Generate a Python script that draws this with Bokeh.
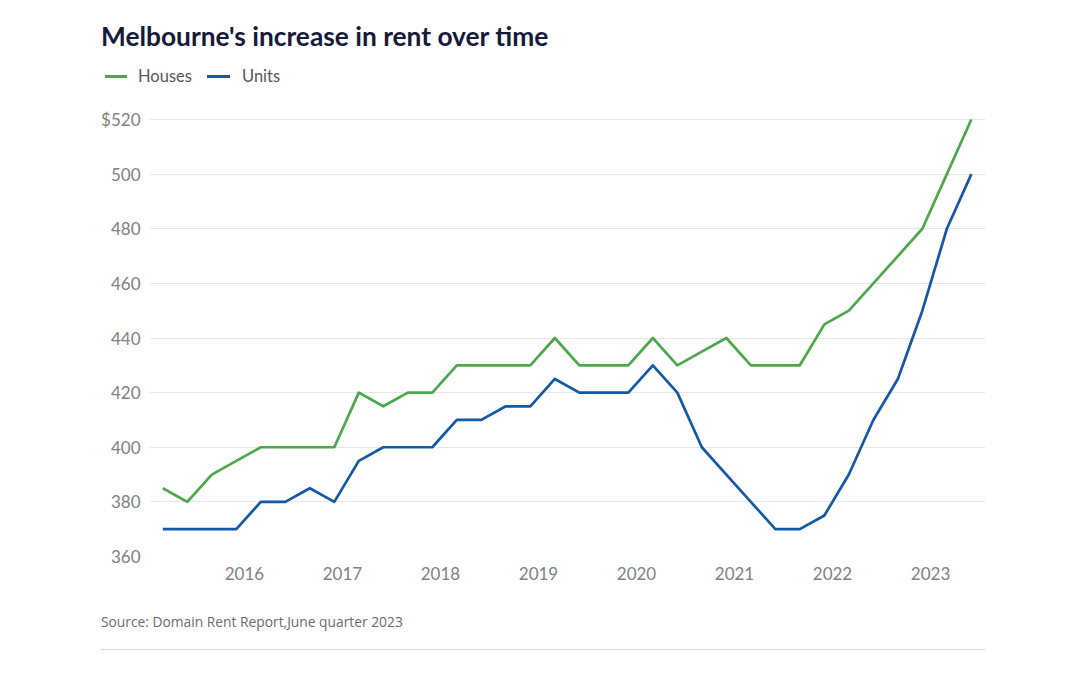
from bokeh.plotting import figure
from bokeh.models import FixedTicker, Range1d, Div
from bokeh.layouts import column
from bokeh.embed import file_html
from bokeh.resources import INLINE

# ---- data ----
quarters = ["2015-Q1", "2015-Q2", "2015-Q3", "2015-Q4",
            "2016-Q1", "2016-Q2", "2016-Q3", "2016-Q4",
            "2017-Q1", "2017-Q2", "2017-Q3", "2017-Q4",
            "2018-Q1", "2018-Q2", "2018-Q3", "2018-Q4",
            "2019-Q1", "2019-Q2", "2019-Q3", "2019-Q4",
            "2020-Q1", "2020-Q2", "2020-Q3", "2020-Q4",
            "2021-Q1", "2021-Q2", "2021-Q3", "2021-Q4",
            "2022-Q1", "2022-Q2", "2022-Q3", "2022-Q4",
            "2023-Q1", "2023-Q2"]
houses = [385, 380, 390, 395, 400, 400, 400, 400, 420, 415, 420, 420,
          430, 430, 430, 430, 440, 430, 430, 430, 440, 430, 435, 440,
          430, 430, 430, 445, 450, 460, 470, 480, 500, 520]
units = [370, 370, 370, 370, 380, 380, 385, 380, 395, 400, 400, 400,
         410, 410, 415, 415, 425, 420, 420, 420, 430, 420, 400, 390,
         380, 370, 370, 375, 390, 410, 425, 450, 480, 500]
year_ticks = [2016, 2017, 2018, 2019, 2020, 2021, 2022, 2023]
y_ticks = [360, 380, 400, 420, 440, 460, 480, 500, 520]
series_names = ["Houses", "Units"]
title_text = "Melbourne's increase in rent over time"
source_text = "Source: Domain Rent Report,June quarter 2023"

GREEN = "#4ca64a"
BLUE = "#1457a6"
FONT = "Lato"


def qpos(q):
    y, n = q.split("-Q")
    return int(y) + (int(n) - 1) / 4 + 1 / 6


xs = [qpos(q) for q in quarters]

W = 1064
HEAD_H = 96            # header strip (title + legend)
TOP_B = 20             # top border of chart (frame top at page y=116)
FRAME_H = 440
BOT_B = 40
MAIN_H = TOP_B + FRAME_H + BOT_B
FL, FR = 149, 985
FOOT_H = 56

# ---------------- header: title + legend (HTML) ----------------
swatch = ('<span style="position:absolute;left:{l}px;top:75.2px;width:{w}px;height:2.6px;'
          'background:{c};"></span>')
label = ('<span style="position:absolute;left:{l}px;top:68.3px;font-family:Lato;font-size:16.5px;'
         'line-height:16.5px;color:#555555;white-space:nowrap;">{t}</span>')
header_html = (
    '<div style="position:relative;width:%dpx;height:%dpx;">' % (W, HEAD_H)
    + '<span style="position:absolute;left:101px;top:23px;font-family:Lato;font-weight:bold;'
      'font-size:26.3px;line-height:26px;color:#15193a;white-space:nowrap;">%s</span>' % title_text
    + swatch.format(l=105, w=22, c=GREEN) + label.format(l=138, t=series_names[0])
    + swatch.format(l=207, w=23, c=BLUE) + label.format(l=242, t=series_names[1])
    + '</div>'
)
header = Div(text=header_html, width=W, height=HEAD_H, margin=(0, 0, 0, 0))

# ---------------- main chart ----------------
p = figure(width=W, height=MAIN_H, output_backend="svg", toolbar_location=None,
           x_range=Range1d(2015.031, 2023.561), y_range=Range1d(360, 521.1),
           min_border_left=FL, min_border_right=W - FR,
           min_border_top=TOP_B, min_border_bottom=BOT_B, title=None)
p.outline_line_color = None
p.background_fill_color = "white"
p.border_fill_color = "white"

r_h = p.line(xs, houses, line_color=GREEN, line_width=2.7, line_join="round")
r_u = p.line(xs, units, line_color=BLUE, line_width=2.7, line_join="round")

for ax in (p.xaxis[0], p.yaxis[0]):
    ax.axis_line_color = None
    ax.major_tick_line_color = None
    ax.minor_tick_line_color = None
    ax.major_tick_out = 0
    ax.major_tick_in = 0
    ax.minor_tick_out = 0
    ax.minor_tick_in = 0
    ax.major_label_text_color = "#808080"
    ax.major_label_text_font = FONT
    ax.major_label_text_font_size = "17px"

p.xaxis.ticker = FixedTicker(ticks=year_ticks)
p.xaxis.major_label_overrides = {t: str(t) for t in year_ticks}
p.xaxis.major_label_standoff = 10
p.yaxis.ticker = FixedTicker(ticks=y_ticks)
p.yaxis.major_label_overrides = {t: ("$" + str(t) if t == max(y_ticks) else str(t)) for t in y_ticks}
p.yaxis.major_label_standoff = 9

p.xgrid.grid_line_color = None
p.ygrid.grid_line_color = "#e6e6e6"
p.ygrid.grid_line_width = 1

# ---------------- footer: source + rule (HTML) ----------------
footer_html = (
    '<div style="position:relative;width:%dpx;height:%dpx;">' % (W, FOOT_H)
    + '<span style="position:absolute;left:101px;top:18.7px;font-family:\'Open Sans\';'
      'font-size:13.8px;line-height:13.8px;color:#6b6b6b;white-space:nowrap;">%s</span>' % source_text
    + '<span style="position:absolute;left:101px;top:53px;width:884px;height:1px;'
      'background:#d6d6d6;"></span>'
    + '</div>'
)
footer = Div(text=footer_html, width=W, height=FOOT_H, margin=(0, 0, 0, 0))

open("out.html", "w").write(file_html(column(header, p, footer), INLINE))
